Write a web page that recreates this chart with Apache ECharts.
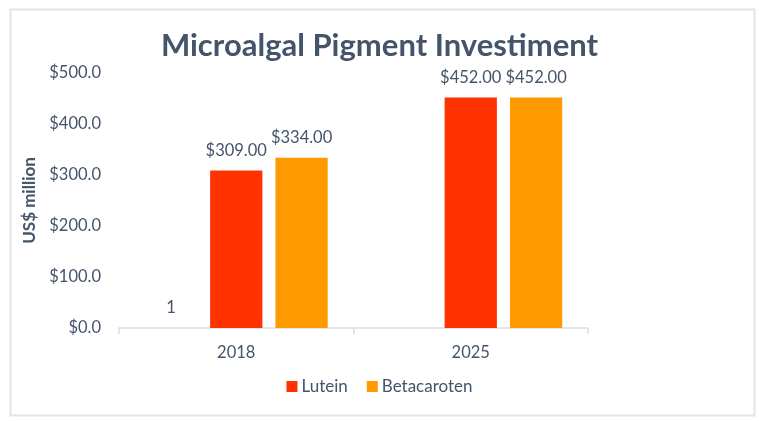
<!DOCTYPE html>
<html>
<head>
<meta charset="utf-8">
<script src="https://cdn.jsdelivr.net/npm/echarts@6/dist/echarts.min.js"></script>
<style>
html,body{margin:0;padding:0;background:#fff;}
#chart{width:759px;height:421px;}
</style>
</head>
<body>
<div id="chart"></div>
<script>
const categories = ['2018', '2025'];
const seriesBlank = [1, null];
const seriesLutein = [309, 452];
const seriesBeta = [334, 452];
const yTicks = [0, 100, 200, 300, 400, 500];

const textColor = '#44546a';
const font = 'Lato, "Open Sans", sans-serif';

const chart = echarts.init(document.getElementById('chart'));
chart.setOption({
  animation: false,
  backgroundColor: '#ffffff',
  graphic: [{
    type: 'rect', left: 8, top: 7, z: -1,
    shape: { width: 744, height: 406 },
    style: { fill: 'none', stroke: '#dfe4ea', lineWidth: 2 }
  }],
  title: {
    text: 'Microalgal Pigment Investiment',
    left: 'center', top: 25,
    textStyle: { fontFamily: font, fontSize: 31, fontWeight: 'bold', color: textColor }
  },
  legend: {
    data: ['Lutein', 'Betacaroten'],
    top: 373, left: 'center',
    itemWidth: 11, itemHeight: 11, itemGap: 19,
    icon: 'rect',
    textStyle: { fontFamily: font, fontSize: 17, color: textColor, padding: [0, 0, 0, -1] }
  },
  grid: { left: 119, right: 171, top: 73, bottom: 93, containLabel: false },
  xAxis: {
    type: 'category', data: categories,
    axisLine: { lineStyle: { color: '#d9dde3', width: 1.5 } },
    axisTick: { show: true, length: 6, lineStyle: { color: '#d9dde3', width: 1.5 } },
    axisLabel: { fontFamily: font, fontSize: 16.5, color: textColor, margin: 16 }
  },
  yAxis: {
    type: 'value', min: yTicks[0], max: yTicks[yTicks.length - 1], interval: 100,
    name: 'US$ million', nameLocation: 'middle', nameGap: 80, nameRotate: 90,
    nameTextStyle: { fontFamily: font, fontSize: 17, fontWeight: 'bold', color: textColor },
    axisLine: { show: false }, axisTick: { show: false },
    splitLine: { show: false },
    axisLabel: {
      fontFamily: font, fontSize: 16.5, color: textColor, margin: 18,
      formatter: v => '$' + v.toFixed(1)
    }
  },
  series: [
    {
      name: 'blank', type: 'bar', data: seriesBlank,
      barGap: '25%', barCategoryGap: '22%',
      itemStyle: { color: 'rgba(0,0,0,0)' },
      label: { show: true, position: 'top', distance: 11, fontFamily: font, fontSize: 16.5, color: textColor,
        formatter: p => String(p.value) }
    },
    {
      name: 'Lutein', type: 'bar', data: seriesLutein,
      barGap: '25%', barCategoryGap: '22%',
      itemStyle: { color: '#ff3300' },
      label: { show: true, position: 'top', distance: 11, fontFamily: font, fontSize: 16.5, color: textColor,
        formatter: p => '$' + p.value.toFixed(2) }
    },
    {
      name: 'Betacaroten', type: 'bar', data: seriesBeta,
      barGap: '25%', barCategoryGap: '22%',
      itemStyle: { color: '#ff9900' },
      label: { show: true, position: 'top', distance: 11, fontFamily: font, fontSize: 16.5, color: textColor,
        formatter: p => '$' + p.value.toFixed(2) }
    }
  ]
});
</script>
</body>
</html>
